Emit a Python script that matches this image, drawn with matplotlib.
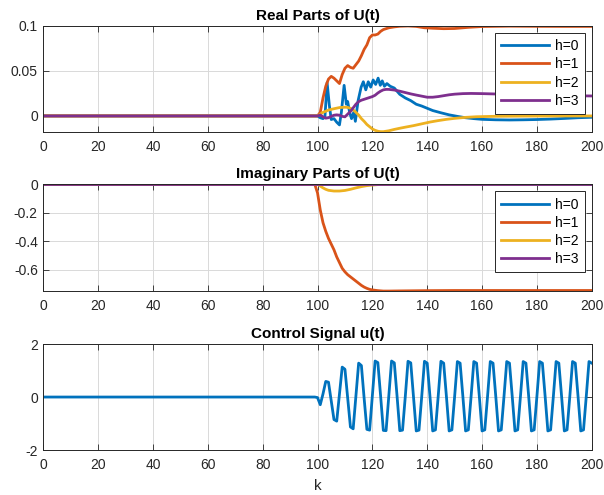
import numpy as np
import matplotlib
matplotlib.use("Agg")
import matplotlib.pyplot as plt

plt.rcParams['font.family'] = ['Liberation Sans', 'DejaVu Sans']
plt.rcParams['axes.unicode_minus'] = False

# MATLAB default line colours
colors = ['#0072BD', '#D95319', '#EDB120', '#7E2F8E']
labels = ['h=0', 'h=1', 'h=2', 'h=3']

# ---- real parts of U(t) ----
re0_k = [0, 100, 101, 102, 102.7, 103.5, 104.3, 105, 106, 107, 108, 108.7, 109.7, 110.5, 111,
         111.7, 112.4, 113.2, 113.8, 114.8, 115.9, 116.7, 117.6, 118.5, 119.4, 120.3, 121.2,
         122.1, 122.9, 123.6, 124.4, 125.3, 126.5, 128, 130, 132, 134, 136, 138, 140, 142,
         145, 148, 151, 154, 157, 160, 165, 170, 175, 180, 185, 190, 195, 200]
re0_v = [0, 0, -0.002, -0.003, -0.001, 0.037, 0.012, -0.004, -0.003, -0.007, -0.010, 0.004,
         0.034, 0.013, 0.016, 0.004, -0.003, 0.004, -0.006, 0.017, 0.032, 0.038, 0.029, 0.038,
         0.032, 0.040, 0.035, 0.042, 0.034, 0.039, 0.033, 0.036, 0.033, 0.031, 0.024, 0.020,
         0.017, 0.013, 0.011, 0.0085, 0.006, 0.0035, 0.0012, -0.0005, -0.002, -0.003, -0.0038,
         -0.0043, -0.0045, -0.0043, -0.004, -0.0035, -0.0028, -0.002, -0.0015]

re1_k = [0, 100, 101, 102, 103, 104, 105, 106, 107, 108, 109, 110, 111, 112, 113, 114, 115,
         116, 117, 118, 119, 120, 121, 122, 123, 124, 126, 128, 130, 133, 136, 139, 142, 146,
         150, 155, 160, 170, 180, 190, 200]
re1_v = [0, 0, 0.004, 0.020, 0.033, 0.041, 0.044, 0.042, 0.039, 0.036, 0.046, 0.053, 0.056,
         0.054, 0.053, 0.057, 0.061, 0.067, 0.074, 0.079, 0.087, 0.090, 0.090, 0.091, 0.094,
         0.096, 0.098, 0.099, 0.0997, 0.1, 0.0995, 0.098, 0.0975, 0.0970, 0.0972, 0.0985,
         0.0994, 0.0998, 0.0996, 0.0995, 0.0995]

re2_k = [0, 100, 102, 104, 106, 108, 110, 111, 112, 113, 114, 115, 116, 117, 118, 119, 120,
         121, 122, 123, 124, 125, 126, 128, 130, 132, 135, 138, 141, 144, 147, 150, 154, 158,
         165, 175, 185, 200]
re2_v = [0, 0, 0.004, 0.0065, 0.008, 0.0093, 0.0097, 0.0095, 0.0085, 0.0068, 0.004, 0.001,
         -0.003, -0.006, -0.0095, -0.012, -0.0145, -0.016, -0.017, -0.0175, -0.0175, -0.017,
         -0.0165, -0.015, -0.0137, -0.0125, -0.0108, -0.0088, -0.0068, -0.0052, -0.0038,
         -0.0027, -0.0016, -0.0009, -0.0004, -0.0002, -0.0001, 0.0]

re3_k = [0, 100, 101, 102, 103, 104, 105, 106, 107, 108, 109, 110, 111, 112, 113, 114, 115,
         116, 117, 118, 119, 120, 121, 122, 123, 124, 125, 126, 128, 130, 132, 134, 136, 138,
         140, 142, 144, 146, 148, 150, 153, 156, 160, 170, 180, 190, 200]
re3_v = [0, 0, 0.001, -0.001, -0.0025, -0.002, -0.0005, 0.0008, 0.0012, 0.0008, -0.0005,
         -0.001, 0.002, 0.005, 0.009, 0.013, 0.016, 0.0175, 0.0185, 0.0195, 0.0205, 0.0215,
         0.023, 0.0255, 0.0275, 0.029, 0.0295, 0.0295, 0.0288, 0.0275, 0.026, 0.0245, 0.0232,
         0.0220, 0.0208, 0.0208, 0.0215, 0.0225, 0.0235, 0.0242, 0.0248, 0.0250, 0.0248,
         0.0240, 0.0232, 0.0225, 0.0222]

# ---- imaginary parts of U(t) ----
im0_k = [0, 200]
im0_v = [0, 0]
im1_k = [0, 99, 100, 101, 102, 103, 104, 105, 106, 107, 108, 109, 110, 111, 112, 113, 114,
         115, 116, 117, 118, 119, 120, 122, 124, 126, 130, 140, 150, 160, 170, 180, 190, 200]
im1_v = [0, 0, -0.06, -0.18, -0.27, -0.33, -0.38, -0.42, -0.46, -0.51, -0.55, -0.59, -0.615,
         -0.635, -0.65, -0.665, -0.68, -0.695, -0.71, -0.722, -0.731, -0.738, -0.742, -0.747,
         -0.75, -0.75, -0.749, -0.747, -0.746, -0.746, -0.746, -0.746, -0.746, -0.746]
im2_k = [0, 100, 101, 102, 103, 104, 106, 108, 110, 112, 114, 116, 118, 120, 122, 124, 200]
im2_v = [0, 0, -0.012, -0.025, -0.035, -0.042, -0.047, -0.047, -0.043, -0.035, -0.025,
         -0.016, -0.009, -0.005, -0.002, -0.001, 0]
im3_k = [0, 200]
im3_v = [0, 0]

# ---- control signal u(t), one value per sample k = 0..200 ----
u_k = np.arange(0, 201)
u_v = [0.0] * 100 + [
    -0.02, -0.29, 0.12, 0.59, 0.56, -0.15, -0.85, -0.91, 0.10, 1.13,    # 100-109
    1.05, -0.05, -1.13, -1.20, 0.05, 1.28, 1.19, -0.05, -1.22, -1.25,   # 110-119
    0.05, 1.36, 1.30, 0.05, -1.26, -1.27, 0.02, 1.36, 1.29, 0.04,       # 120-129
    -1.27, -1.25, 0.01, 1.35, 1.29, 0.03, -1.28, -1.25, 0.02, 1.35,     # 130-139
    1.28, 0.03, -1.28, -1.24, 0.02, 1.35, 1.28, 0.03, -1.28, -1.24,     # 140-149
    0.02, 1.34, 1.28, 0.03, -1.28, -1.24, 0.02, 1.34, 1.28, 0.03,       # 150-159
    -1.28, -1.24, 0.02, 1.34, 1.28, 0.03, -1.28, -1.24, 0.02, 1.34,     # 160-169
    1.28, 0.03, -1.28, -1.24, 0.02, 1.34, 1.28, 0.03, -1.28, -1.24,     # 170-179
    0.02, 1.34, 1.28, 0.03, -1.28, -1.24, 0.02, 1.34, 1.28, 0.03,       # 180-189
    -1.28, -1.24, 0.02, 1.34, 1.28, 0.03, -1.28, -1.24, 0.02, 1.34,     # 190-199
    1.28]                                                               # 200

xticks = np.arange(0, 201, 20)
txt = '0.15'


def style(ax, title):
    ax.set_xlim(0, 200)
    ax.set_xticks(xticks)
    ax.grid(True, color='0.85', linewidth=0.7)
    ax.set_axisbelow(True)
    ax.tick_params(direction='in', top=True, right=True, length=4, width=0.6,
                   colors=txt, labelsize=10, pad=6)
    ax.tick_params(axis='y', pad=4)
    for s in ax.spines.values():
        s.set_color(txt)
        s.set_linewidth(0.7)
    ax.set_title(title, fontsize=11, fontweight='bold', color='black', pad=4.5)


fig = plt.figure(figsize=(6.04, 4.95), dpi=100)
ax1 = fig.add_axes([0.0717, 0.734, 0.908, 0.2135])
ax2 = fig.add_axes([0.0717, 0.412, 0.908, 0.2156])
ax3 = fig.add_axes([0.0717, 0.0909, 0.908, 0.214])

lw = 2.0
for kk, vv, c, lab in zip([re0_k, re1_k, re2_k, re3_k], [re0_v, re1_v, re2_v, re3_v],
                          colors, labels):
    ax1.plot(kk, vv, color=c, lw=lw, label=lab)
ax1.set_ylim(-0.0175, 0.1)
ax1.set_yticks([0, 0.05, 0.1])
ax1.set_yticklabels(['0', '0.05', '0.1'])
style(ax1, 'Real Parts of U(t)')

for kk, vv, c, lab in zip([im0_k, im1_k, im2_k, im3_k], [im0_v, im1_v, im2_v, im3_v],
                          colors, labels):
    ax2.plot(kk, vv, color=c, lw=lw, label=lab)
ax2.set_ylim(-0.75, 0)
ax2.set_yticks([-0.6, -0.4, -0.2, 0])
ax2.set_yticklabels(['-0.6', '-0.4', '-0.2', '0'])
style(ax2, 'Imaginary Parts of U(t)')

ax3.plot(u_k, u_v, color=colors[0], lw=lw)
ax3.set_ylim(-2, 2)
ax3.set_yticks([-2, 0, 2])
ax3.set_yticklabels(['-2', '0', '2'])
style(ax3, 'Control Signal u(t)')
ax3.set_xlabel('k', fontsize=11, color=txt, labelpad=5)

for ax in (ax1, ax2):
    leg = ax.legend(loc='upper right', fontsize=10, handlelength=3.5, fancybox=False,
                    framealpha=1, edgecolor=txt, borderaxespad=0.5, labelspacing=0.3,
                    handletextpad=0.4, borderpad=0.45)
    leg.get_frame().set_linewidth(0.7)

fig.savefig('out.png', dpi=100)
